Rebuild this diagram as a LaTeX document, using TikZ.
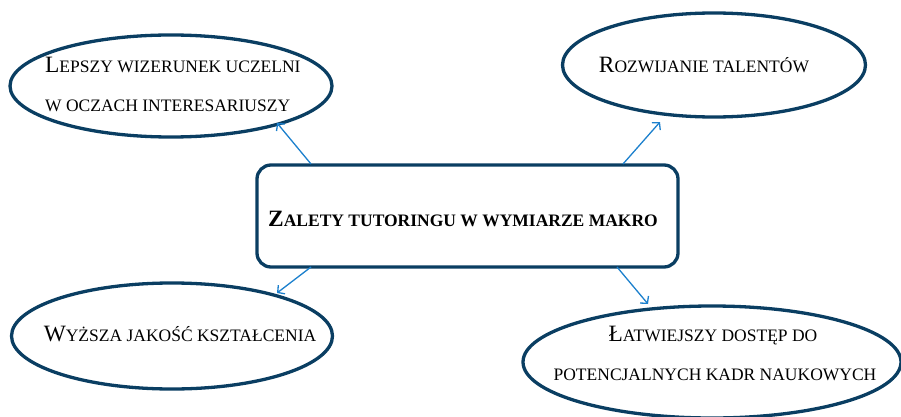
\documentclass[tikz,border=0pt]{standalone}
\usepackage{fontspec}
\setmainfont{Liberation Serif}
\usetikzlibrary{shapes.geometric,arrows.meta}
\definecolor{edgeblue}{RGB}{10,62,98}
\definecolor{arrblue}{RGB}{28,128,205}
\newcommand\BigL[1]{{\fontsize{23.4}{28}\selectfont #1}}
\newcommand\SmL[1]{{\fontsize{17.5}{21}\selectfont #1}}
\begin{document}
\begin{tikzpicture}[x=1pt,y=-1pt,
  oval/.style={draw=edgeblue,line width=3.3pt,ellipse,inner sep=0pt},
  lbl/.style={anchor=base,inner sep=0pt,text=black},
  conn/.style={draw=arrblue,line width=1.3pt,-{Straight Barb[length=5pt,width=11pt]}}]
\useasboundingbox (0,0) rectangle (901,417);
\node[draw=edgeblue,line width=3.3pt,rounded corners=14pt,minimum width=421pt,minimum height=102pt] (c) at (467.5,216) {};
\node[oval,minimum width=322pt,minimum height=102pt] (e1) at (171,86) {};
\node[oval,minimum width=303pt,minimum height=104pt] (e2) at (714,65) {};
\node[oval,minimum width=321pt,minimum height=106pt] (e3) at (172,336) {};
\node[oval,minimum width=378pt,minimum height=112pt] (e4) at (712,362) {};
\node[lbl,anchor=base west] (t1a) at (45,73) {\BigL{L}\SmL{EPSZY WIZERUNEK UCZELNI}};
\node[lbl,anchor=base west] (t1b) at (45,111) {\SmL{W OCZACH INTERESARIUSZY}};
\node[lbl] (t2) at (704,73) {\BigL{R}\SmL{OZWIJANIE TALENTÓW}};
\node[lbl] (tc) at (463,226) {\bfseries\BigL{Z}\SmL{ALETY TUTORINGU W WYMIARZE MAKRO}};
\node[lbl] (t3) at (180,341) {\BigL{W}\SmL{YŻSZA JAKOŚĆ KSZTAŁCENIA}};
\node[lbl] (t4a) at (713,341) {\BigL{Ł}\SmL{ATWIEJSZY DOSTĘP DO}};
\node[lbl] (t4b) at (715,380) {\SmL{POTENCJALNYCH KADR NAUKOWYCH}};
\coordinate (s1) at (311,164); \coordinate (p1) at (277,123);
\coordinate (s2) at (623,164); \coordinate (p2) at (660,122);
\coordinate (s3) at (311,267); \coordinate (p3) at (277,293);
\coordinate (s4) at (617,267); \coordinate (p4) at (648,304);
\draw[conn] (s1) -- (p1);
\draw[conn] (s2) -- (p2);
\draw[conn] (s3) -- (p3);
\draw[conn] (s4) -- (p4);
\end{tikzpicture}
\end{document}
